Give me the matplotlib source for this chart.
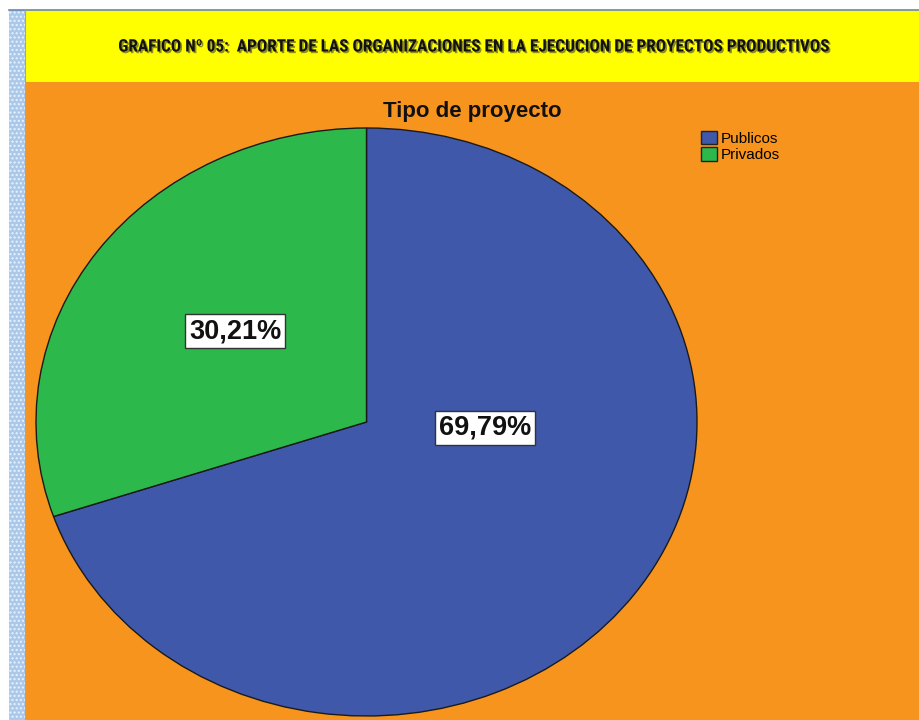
import matplotlib
matplotlib.use("Agg")
import matplotlib.pyplot as plt
import matplotlib.patheffects as pe
from matplotlib.patches import Rectangle
from matplotlib import font_manager as fm

# ---- data ----
categories = ["Publicos", "Privados"]
values = [69.79, 30.21]
colors = ["#3F58A9", "#2DB84B"]
header = "GRAFICO Nº 05:  APORTE DE LAS ORGANIZACIONES EN LA EJECUCION DE PROYECTOS PRODUCTIVOS"
chart_title = "Tipo de proyecto"

W, H = 919, 720
fig = plt.figure(figsize=(W / 100, H / 100), dpi=100)
fig.patch.set_facecolor("white")

def fx(x):
    return x / W

def fy(y):
    return 1 - y / H

# background panels
fig.add_artist(Rectangle((fx(9), 0), fx(16), fy(10), transform=fig.transFigure,
                         facecolor="#A9C8EA", edgecolor="#EAF2FB", linewidth=0,
                         hatch="....", zorder=0))
fig.add_artist(Rectangle((fx(25), fy(82)), fx(W - 25), fy(10) - fy(82), transform=fig.transFigure,
                         facecolor="#FFFF00", edgecolor="none", zorder=0))
fig.add_artist(Rectangle((fx(25), 0), fx(W - 25), fy(82), transform=fig.transFigure,
                         facecolor="#F7941D", edgecolor="none", zorder=0))
fig.add_artist(plt.Line2D([fx(9), 1], [fy(10), fy(10)], transform=fig.transFigure,
                          color="#6A86B0", lw=1.2, zorder=1))
fig.add_artist(plt.Line2D([fx(25), fx(25)], [0, fy(10)], transform=fig.transFigure,
                          color="#8FA8C8", lw=0.8, zorder=1))

# pick a condensed bold font for the header if one is installed
def pick_condensed():
    cands = []
    for f in fm.fontManager.ttflist:
        n = f.fname.lower()
        if ("condensed" in n or "narrow" in n) and "bold" in n and "extra" not in n \
                and "semi" not in n and "italic" not in n and "black" not in n:
            cands.append(f)
    for pref in ["noto", "open", "roboto", "liberation", "dejavu"]:
        for f in cands:
            if pref in f.fname.lower():
                return fm.FontProperties(fname=f.fname)
    if cands:
        return fm.FontProperties(fname=cands[0].fname)
    return fm.FontProperties(family="Liberation Sans", weight="bold")

hprop = pick_condensed()
hprop.set_size(14)
htxt = fig.text(fx(474), fy(47), header, ha="center", va="center",
                fontproperties=hprop, color="#111111",
                path_effects=[pe.withSimplePatchShadow(offset=(1.2, -1.2),
                                                       shadow_rgbFace="#333333", alpha=0.55)])
# fit header width to ~713 px
fig.canvas.draw()
r = fig.canvas.get_renderer()
wpx = htxt.get_window_extent(r).width
newsize = min(15.5, 14 * 713 / wpx)
htxt.set_fontsize(newsize)

# chart title
fig.text(fx(472), fy(111), chart_title, ha="center", va="center",
         fontfamily="Liberation Sans", fontweight="bold", fontsize=16, color="#111111")

# pie axes (elliptical pie)
ax = fig.add_axes([fx(36), 1 - 716 / H, fx(697 - 36), (716 - 128) / H])
fmt = lambda p: f"{p:.2f}%".replace(".", ",")
wedges, texts, autotexts = ax.pie(values, colors=colors, startangle=90, counterclock=False,
                                  autopct=fmt, pctdistance=0.5,
                                  wedgeprops=dict(edgecolor="#1A1A1A", linewidth=1.0))
ax.set_aspect("auto")
ax.set_xlim(-1, 1)
ax.set_ylim(-1, 1)
ax.axis("off")
for w in wedges:
    w.set_clip_on(False)

label_pos = [(0.358, -0.02), (-0.397, 0.309)]
for t, pos in zip(autotexts, label_pos):
    t.set_position(pos)
    t.set_fontfamily("Liberation Sans")
    t.set_fontweight("bold")
    t.set_fontsize(19.5)
    t.set_color("#111111")
    t.set_bbox(dict(boxstyle="square,pad=0.15", facecolor="white", edgecolor="#333333", linewidth=1.0))

# legend
leg = fig.legend(wedges, categories, loc="upper left", bbox_to_anchor=(fx(690), fy(120)),
                 frameon=False, prop=dict(family="Liberation Sans", size=11),
                 handlelength=1.05, handleheight=1.0, handletextpad=0.25, labelspacing=0.1,
                 borderpad=0.2)
for h in leg.legend_handles:
    h.set_edgecolor("#222222")
    h.set_linewidth(1.0)

fig.savefig("out.png", dpi=100)
